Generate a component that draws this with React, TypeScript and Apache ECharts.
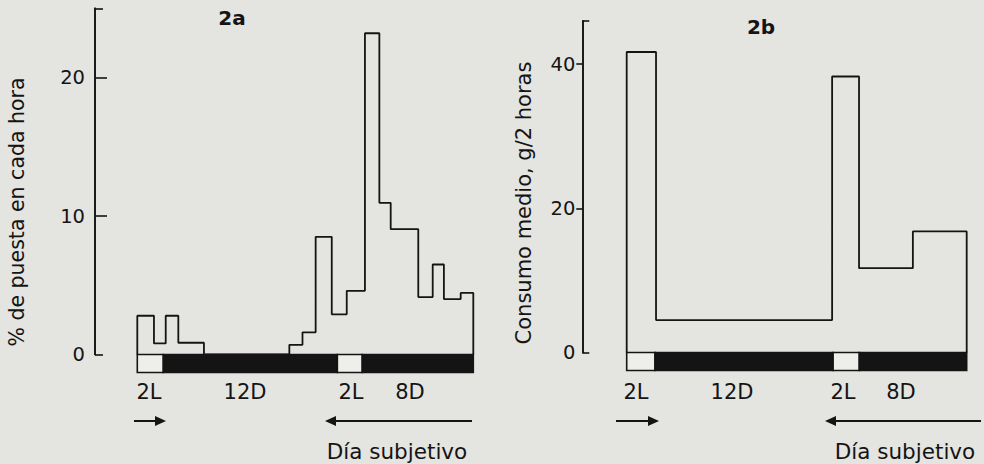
import React, { useEffect, useRef } from "react";
import * as echarts from "echarts";

// ---- data (hours on the x axis, 0..24) ----
const X_MAX = 24;
// panel 2a: % of laying per hour (bin left edges in hours, values)
const edgesA = [0, 1.19, 2.03, 2.93, 4.76, 10.86, 11.8, 12.74, 13.89, 14.96, 16.26, 17.29, 18.1, 20.07, 21.1, 21.9, 23.1];
const valuesA = [2.8, 0.8, 2.8, 0.85, 0, 0.7, 1.6, 8.5, 2.9, 4.6, 23.2, 10.95, 9.05, 4.15, 6.5, 4.0, 4.45];
// panel 2b: mean consumption g / 2 h
const edgesB = [0, 2.07, 14.5, 16.4, 20.2];
const valuesB = [41.7, 4.5, 38.3, 11.7, 16.8];
// light (0) / dark (1) schedule: [start, end, kind]
const lightDarkA = [[0, 1.86, 0], [1.86, 14.29, 1], [14.29, 16.07, 0], [16.07, 24, 1]];
const lightDarkB = [[0, 2.0, 0], [2.0, 14.57, 1], [14.57, 16.42, 0], [16.42, 24, 1]];
const phaseLabels = ["2L", "12D", "2L", "8D"];
const yLabelsA = [0, 10, 20];
const yMaxA = 25;
const yLabelsB = [0, 20, 40];
const yMaxB = 46;
const titleA = "2a";
const titleB = "2b";
const yNameA = "% de puesta en cada hora";
const yNameB = "Consumo medio, g/2 horas";
const subjDay = "Día subjetivo";

const INK = "#141414";
const BG = "#e4e4e0";
const FONT = "'DejaVu Sans', 'Liberation Sans', sans-serif";

function stepData(edges: number[], values: number[]) {
  const pts: number[][] = [[0, 0]];
  edges.forEach((e, i) => pts.push([e, values[i]]));
  pts.push([X_MAX, values[values.length - 1]]);
  pts.push([X_MAX, 0]);
  return pts;
}

function ldRender(params: any, api: any) {
  const s = api.coord([api.value(0), 0]);
  const e = api.coord([api.value(1), 0]);
  const dark = api.value(2) === 1;
  return {
    type: "rect",
    shape: { x: s[0], y: s[1], width: e[0] - s[0], height: 18 },
    style: { fill: dark ? INK : "#eeeeea", stroke: INK, lineWidth: 1.6 },
  };
}

function arrow(x1: number, x2: number, y: number, headLeft: boolean) {
  const head = 11;
  const hw = 5;
  const shaft = headLeft
    ? { x1: x1 + head - 1, y1: y, x2: x2, y2: y }
    : { x1: x1, y1: y, x2: x2 - head + 1, y2: y };
  const poly = headLeft
    ? [[x1, y], [x1 + head, y - hw], [x1 + head, y + hw]]
    : [[x2, y], [x2 - head, y - hw], [x2 - head, y + hw]];
  return [
    { type: "line", shape: shaft, style: { stroke: INK, lineWidth: 2 } },
    { type: "polygon", shape: { points: poly }, style: { fill: INK } },
  ];
}

function txt(text: string, x: number, y: number, size: number, extra: any = {}) {
  return {
    type: "text",
    x,
    y,
    style: {
      text,
      fill: INK,
      font: `${extra.weight || "normal"} ${size}px ${FONT}`,
      align: "center",
      verticalAlign: "middle",
    },
    rotation: extra.rotation || 0,
  };
}

export default function App() {
  const ref = useRef<HTMLDivElement>(null);
  useEffect(() => {
    const chart = echarts.init(ref.current!, null, { renderer: "svg" });
    const axisLineStyle = { color: INK, width: 1.6 };
    const labelStyle = { color: INK, fontSize: 19.5, fontFamily: FONT };

    const phaseXA = [149, 245, 351, 410];
    const phaseXB = [636, 732, 843, 901];

    const yBase = (gridIndex: number, max: number, offset: number) => ({
      gridIndex, type: "value", min: 0, max, offset, position: "left",
      axisLine: { show: true, onZero: false, lineStyle: axisLineStyle },
      splitLine: { show: false },
    });

    const option: any = {
      animation: false,
      backgroundColor: BG,
      grid: [
        { left: 137.3, right: 984 - 473.3, top: 8.3, bottom: 464 - 354.5 },
        { left: 626.7, right: 984 - 966.7, top: 21, bottom: 464 - 352.5 },
      ],
      xAxis: [
        { gridIndex: 0, type: "value", min: 0, max: X_MAX, show: false },
        { gridIndex: 1, type: "value", min: 0, max: X_MAX, show: false },
      ],
      yAxis: [
        {
          ...yBase(0, yMaxA, 42.3),
          axisTick: { show: true, inside: true, length: 12, customValues: [10, 20], lineStyle: axisLineStyle },
          axisLabel: { ...labelStyle, margin: 10, customValues: yLabelsA },
        },
        {
          ...yBase(0, yMaxA, 42.3),
          axisTick: { show: true, inside: true, length: 8, customValues: [0, yMaxA], lineStyle: axisLineStyle },
          axisLabel: { show: false },
        },
        {
          ...yBase(1, yMaxB, 44.4),
          axisTick: { show: true, inside: false, length: 6, customValues: [20, 40], lineStyle: axisLineStyle },
          axisLabel: { ...labelStyle, margin: 7, customValues: yLabelsB },
        },
        {
          ...yBase(1, yMaxB, 44.4),
          axisTick: { show: true, inside: true, length: 7, customValues: [0, yMaxB], lineStyle: axisLineStyle },
          axisLabel: { show: false },
        },
      ],
      series: [
        {
          type: "custom", xAxisIndex: 0, yAxisIndex: 0, clip: false,
          renderItem: ldRender, data: lightDarkA, encode: { x: [0, 1] }, silent: true,
        },
        {
          type: "custom", xAxisIndex: 1, yAxisIndex: 2, clip: false,
          renderItem: ldRender, data: lightDarkB, encode: { x: [0, 1] }, silent: true,
        },
        {
          type: "line", xAxisIndex: 0, yAxisIndex: 0, step: "end", symbol: "none", clip: false,
          lineStyle: { color: INK, width: 1.8 }, data: stepData(edgesA, valuesA), z: 5,
        },
        {
          type: "line", xAxisIndex: 1, yAxisIndex: 2, step: "end", symbol: "none", clip: false,
          lineStyle: { color: INK, width: 1.8 }, data: stepData(edgesB, valuesB), z: 5,
        },
      ],
      graphic: [
        txt(titleA, 232, 17.5, 20, { weight: "bold" }),
        txt(titleB, 761, 27, 20, { weight: "bold" }),
        txt(yNameA, 17, 212, 20.5, { rotation: Math.PI / 2 }),
        txt(yNameB, 524, 203, 21, { rotation: Math.PI / 2 }),
        ...phaseLabels.map((t, i) => txt(t, phaseXA[i], 392, 21)),
        ...phaseLabels.map((t, i) => txt(t, phaseXB[i], 392, 21)),
        ...arrow(134, 166, 421, false),
        ...arrow(325, 472, 421, true),
        ...arrow(616, 659, 421, false),
        ...arrow(825, 981, 421, true),
        txt(subjDay, 397, 451, 21.5),
        txt(subjDay, 905, 451, 21.5),
      ],
    };
    chart.setOption(option);
    return () => chart.dispose();
  }, []);
  return <div ref={ref} style={{ position: "absolute", left: 0, top: 0, width: 984, height: 464 }} />;
}
